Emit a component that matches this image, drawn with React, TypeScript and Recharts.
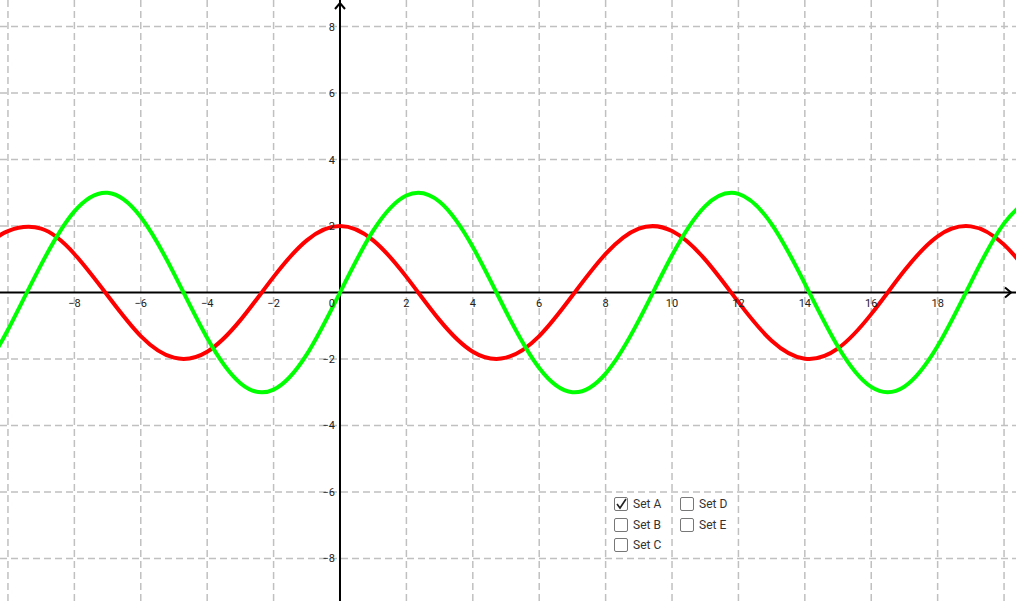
import { LineChart, Line, XAxis, YAxis, ReferenceLine, ReferenceDot } from "recharts";

const X_VALUES = [-10.5, -10, -9, -8, -7, -6, -5, -4, -3, -2, -1, 0, 1, 2, 3, 4, 5, 6, 7, 8, 9, 10, 11, 12, 13, 14, 15, 16, 17, 18, 19, 20, 21];
const GREEN = [-1.97, -1.12, 0.84, 2.44, 3.0, 2.27, 0.57, -1.37, -2.73, -2.92, -1.86, 0, 1.86, 2.92, 2.73, 1.37, -0.57, -2.27, -3.0, -2.44, -0.84, 1.12, 2.6, 2.97, 2.06, 0.27, -1.63, -2.84, -2.83, -1.61, 0.3, 2.08, 2.97];
const RED = [1.51, 1.85, 1.92, 1.16, -0.09, -1.31, -1.96, -1.78, -0.83, 0.47, 1.57, 2, 1.57, 0.47, -0.83, -1.78, -1.96, -1.31, -0.09, 1.16, 1.92, 1.85, 0.99, -0.29, -1.45, -1.99, -1.68, -0.65, 0.66, 1.69, 1.99, 1.44, 0.27];

const X_TICKS = [-8, -6, -4, -2, 2, 4, 6, 8, 10, 12, 14, 16, 18];
const Y_TICKS = [-8, -6, -4, -2, 2, 4, 6, 8];
const GRID_X = [-10, -8, -6, -4, -2, 2, 4, 6, 8, 10, 12, 14, 16, 18, 20];
const GRID_Y = [-8, -6, -4, -2, 2, 4, 6, 8];

const X_DOMAIN: [number, number] = [-10.24, 20.36];
const Y_DOMAIN: [number, number] = [-9.28, 8.8];

const SETS = [
  { label: "Set A", checked: true, col: 0, row: 0 },
  { label: "Set B", checked: false, col: 0, row: 1 },
  { label: "Set C", checked: false, col: 0, row: 2 },
  { label: "Set D", checked: false, col: 1, row: 0 },
  { label: "Set E", checked: false, col: 1, row: 1 },
];

const data = X_VALUES.map((x, i) => ({ x, green: GREEN[i], red: RED[i] }));

const FONT = "Roboto, 'DejaVu Sans', sans-serif";
const fmt = (v: number) => (v < 0 ? "\u2212" + Math.abs(v) : String(v));

export default function App() {
  return (
    <div style={{ position: "fixed", left: 0, top: 0, width: 1016, height: 601, background: "#fff" }}>
      <LineChart width={1016} height={601} data={data} margin={{ top: 0, right: 0, bottom: 0, left: 0 }}>
        <XAxis type="number" dataKey="x" domain={X_DOMAIN} allowDataOverflow hide />
        <YAxis type="number" domain={Y_DOMAIN} allowDataOverflow hide />
        {GRID_X.map((g) => (
          <ReferenceLine key={"gx" + g} x={g} stroke="#c0c0c0" strokeWidth={1.5} strokeDasharray="7 4" />
        ))}
        {GRID_Y.map((g) => (
          <ReferenceLine key={"gy" + g} y={g} stroke="#c0c0c0" strokeWidth={1.5} strokeDasharray="7 4" />
        ))}
        <ReferenceLine x={0} stroke="#000" strokeWidth={2} />
        <ReferenceLine y={0} stroke="#000" strokeWidth={2} />
        {X_TICKS.map((t) => (
          <ReferenceDot
            key={"xt" + t}
            x={t}
            y={0}
            r={0}
            ifOverflow="visible"
            shape={(p: any) => (
              <text x={p.cx} y={p.cy + 14} textAnchor="middle" fontSize={11} fontFamily={FONT} fill="#222">
                {fmt(t)}
              </text>
            )}
          />
        ))}
        <ReferenceDot
          x={0}
          y={0}
          r={0}
          ifOverflow="visible"
          shape={(p: any) => (
            <text x={p.cx - 5} y={p.cy + 14} textAnchor="end" fontSize={11} fontFamily={FONT} fill="#222">
              0
            </text>
          )}
        />
        {Y_TICKS.map((t) => (
          <ReferenceDot
            key={"yt" + t}
            x={0}
            y={t}
            r={0}
            ifOverflow="visible"
            shape={(p: any) => (
              <text x={p.cx - 5} y={p.cy + 4} textAnchor="end" fontSize={11} fontFamily={FONT} fill="#222">
                {fmt(t)}
              </text>
            )}
          />
        ))}
        <ReferenceDot
          x={0}
          y={Y_DOMAIN[1]}
          r={0}
          ifOverflow="visible"
          shape={(p: any) => (
            <polyline points={`${p.cx - 5},${p.cy + 9} ${p.cx},${p.cy + 3} ${p.cx + 5},${p.cy + 9}`} fill="none" stroke="#000" strokeWidth={2} />
          )}
        />
        <ReferenceDot
          x={X_DOMAIN[1]}
          y={0}
          r={0}
          ifOverflow="visible"
          shape={(p: any) => (
            <polyline points={`${p.cx - 11},${p.cy - 5} ${p.cx - 5},${p.cy} ${p.cx - 11},${p.cy + 5}`} fill="none" stroke="#000" strokeWidth={2} />
          )}
        />
        <Line type="natural" dataKey="red" stroke="#ff0000" strokeWidth={4} dot={false} activeDot={false} isAnimationActive={false} />
        <Line type="natural" dataKey="green" stroke="#00ff00" strokeWidth={4} dot={false} activeDot={false} isAnimationActive={false} />
      </LineChart>
      {SETS.map((s) => (
        <div
          key={s.label}
          style={{
            position: "absolute",
            left: 614 + s.col * 66,
            top: 497 + s.row * 20.5,
            display: "flex",
            alignItems: "center",
            fontFamily: FONT,
            fontSize: 12,
            color: "#333",
          }}
        >
          <div style={{ width: 12, height: 12, border: "1px solid #777", borderRadius: 2, marginRight: 5, position: "relative", background: "#fff" }}>
            {s.checked && (
              <svg width={12} height={12} style={{ position: "absolute", left: 0, top: 0 }}>
                <polyline points="2,6 5,10 11,1" fill="none" stroke="#222" strokeWidth={1.6} />
              </svg>
            )}
          </div>
          <span>{s.label}</span>
        </div>
      ))}
    </div>
  );
}
